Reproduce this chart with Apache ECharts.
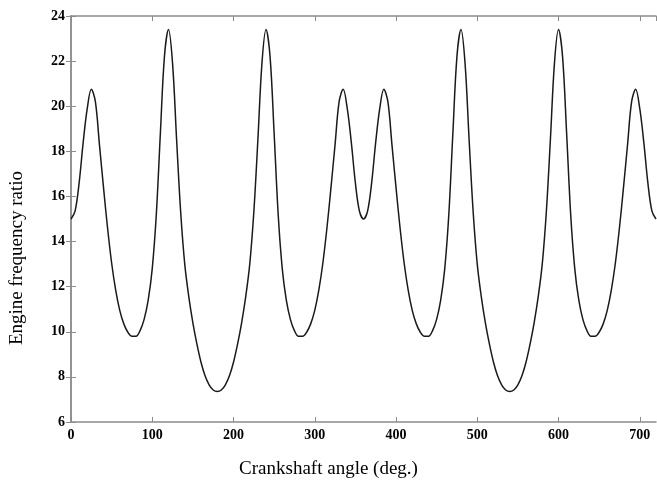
<!DOCTYPE html>
<html>
<head>
<meta charset="utf-8">
<script src="https://cdn.jsdelivr.net/npm/echarts@6/dist/echarts.min.js"></script>
<style>html,body{margin:0;padding:0;background:#fff}#c{width:657px;height:484px}</style>
</head>
<body>
<div id="c"></div>
<script>
const angles = [
  0,5,10,15,20,25,30,35,40,45,50,55,60,65,70,75,80,85,90,95,100,105,110,115,120,125,130,135,140,145,150,155,160,165,170,175,180,
  185,190,195,200,205,210,215,220,225,230,235,240,245,250,255,260,265,270,275,280,285,290,295,300,305,310,315,320,325,330,335,340,345,350,355,360,
  365,370,375,380,385,390,395,400,405,410,415,420,425,430,435,440,445,450,455,460,465,470,475,480,485,490,495,500,505,510,515,520,525,530,535,540,
  545,550,555,560,565,570,575,580,585,590,595,600,605,610,615,620,625,630,635,640,645,650,655,660,665,670,675,680,685,690,695,700,705,710,715,720
];
const ratio = [
  15.0,15.35,16.6,18.4,19.9,20.75,20.2,18.3,16.4,14.6,13.05,11.85,10.95,10.35,9.98,9.8,9.8,10.05,10.55,11.4,12.8,15.2,18.8,22.2,23.4,21.9,18.5,15.3,13.0,11.55,10.4,9.45,8.65,8.05,7.65,7.42,7.35,
  7.42,7.65,8.05,8.65,9.45,10.4,11.55,13.0,15.3,18.5,21.9,23.4,22.2,18.8,15.2,12.8,11.4,10.55,10.05,9.8,9.8,9.98,10.35,10.95,11.85,13.05,14.6,16.4,18.3,20.2,20.75,19.9,18.4,16.6,15.35,15.0,
  15.35,16.6,18.4,19.9,20.75,20.2,18.3,16.4,14.6,13.05,11.85,10.95,10.35,9.98,9.8,9.8,10.05,10.55,11.4,12.8,15.2,18.8,22.2,23.4,21.9,18.5,15.3,13.0,11.55,10.4,9.45,8.65,8.05,7.65,7.42,7.35,
  7.42,7.65,8.05,8.65,9.45,10.4,11.55,13.0,15.3,18.5,21.9,23.4,22.2,18.8,15.2,12.8,11.4,10.55,10.05,9.8,9.8,9.98,10.35,10.95,11.85,13.05,14.6,16.4,18.3,20.2,20.75,19.9,18.4,16.6,15.35,15.0
];
const xTicks = [0,100,200,300,400,500,600,700];
const yTicks = [6,8,10,12,14,16,18,20,22,24];

const axisLineStyle = {show:true, lineStyle:{color:'#8c8c8c', width:1.5}};
const tickStyle = {show:true, inside:true, length:5, lineStyle:{color:'#8c8c8c', width:1}};
const labelStyle = {fontFamily:'Liberation Serif', fontWeight:'bold', fontSize:14, color:'#000'};

const chart = echarts.init(document.getElementById('c'));
chart.setOption({
  animation:false,
  grid:{left:68, right:1, top:16, bottom:62, containLabel:false},
  xAxis:[{
    type:'value', min:0, max:720, interval:100, position:'bottom',
    axisLine:axisLineStyle, axisTick:tickStyle, splitLine:{show:false},
    axisLabel:Object.assign({margin:6, showMaxLabel:false, formatter:v=>xTicks.includes(v)?String(v):''}, labelStyle),
    name:'Crankshaft angle (deg.)', nameLocation:'middle', nameGap:38,
    nameTextStyle:{fontFamily:'Liberation Serif', fontSize:19, color:'#000', padding:[0,70,0,0]}
  },{
    type:'value', min:0, max:720, interval:100, position:'top',
    axisLine:axisLineStyle, axisTick:tickStyle, splitLine:{show:false}, axisLabel:{show:false}
  }],
  yAxis:[{
    type:'value', min:6, max:24, interval:2, position:'left',
    axisLine:axisLineStyle, axisTick:tickStyle, splitLine:{show:false},
    axisLabel:Object.assign({margin:6, formatter:v=>yTicks.includes(v)?String(v):''}, labelStyle),
    name:'Engine frequency ratio', nameLocation:'middle', nameGap:44, nameRotate:90,
    nameTextStyle:{fontFamily:'Liberation Serif', fontSize:19, color:'#000', padding:[0,78,0,0]}
  },{
    type:'value', min:6, max:24, interval:2, position:'right',
    axisLine:axisLineStyle, axisTick:tickStyle, splitLine:{show:false}, axisLabel:{show:false}
  }],
  series:[{
    type:'line', xAxisIndex:0, yAxisIndex:0,
    data:angles.map((a,i)=>[a, ratio[i]]),
    smooth:0.35, showSymbol:false,
    lineStyle:{color:'#1a1a1a', width:1.5}
  }]
});
</script>
</body>
</html>
